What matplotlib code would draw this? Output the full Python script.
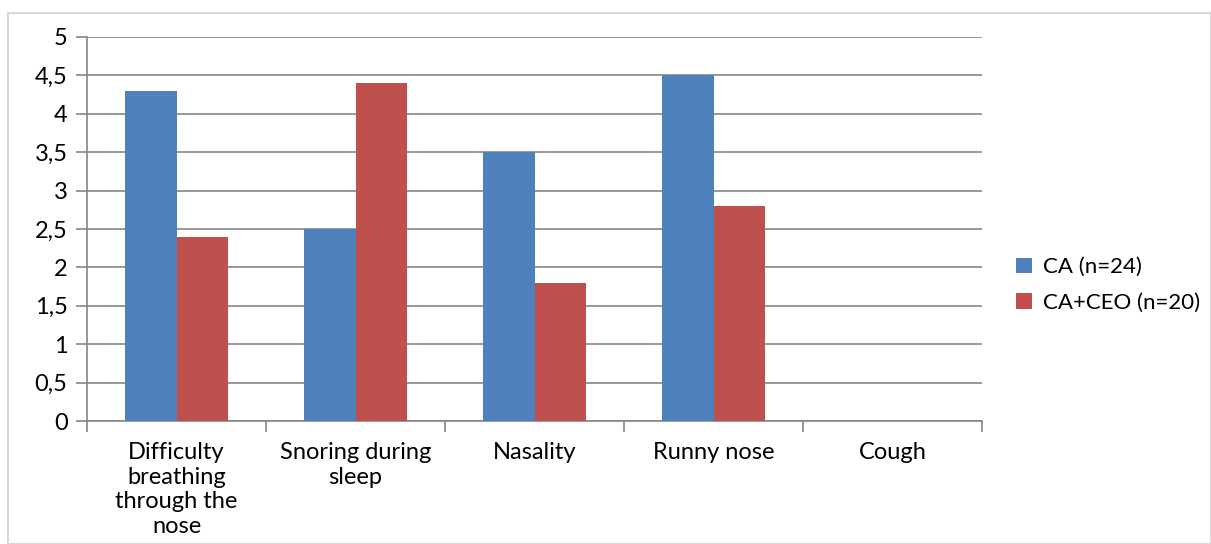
import matplotlib
matplotlib.use("Agg")
import matplotlib.pyplot as plt
from matplotlib.patches import Rectangle
import numpy as np

categories = ["Difficulty\nbreathing\nthrough the\nnose", "Snoring during\nsleep", "Nasality", "Runny nose", "Cough"]
ca_values = [4.3, 2.5, 3.5, 4.5, 0.0]
ceo_values = [2.4, 4.4, 1.8, 2.8, 0.0]
series_names = ["CA (n=24)", "CA+CEO (n=20)"]
y_ticks = [0, 0.5, 1, 1.5, 2, 2.5, 3, 3.5, 4, 4.5, 5]
y_tick_labels = ["0", "0,5", "1", "1,5", "2", "2,5", "3", "3,5", "4", "4,5", "5"]

plt.rcParams['font.family'] = ['Lato', 'DejaVu Sans']

W, H = 1211, 544
fig = plt.figure(figsize=(W / 100, H / 100), dpi=100)
fig.patches.append(Rectangle((8 / W, 0), 1 - 8 / W, 1 - 13 / H, transform=fig.transFigure,
                             fill=False, edgecolor="#d9d9d9", linewidth=1.5))

ax = fig.add_axes([87 / W, 1 - 421 / H, (982 - 87) / W, (421 - 37) / H])

x = np.arange(len(categories))
w = 0.29
ax.bar(x - w / 2, ca_values, width=w, color="#4f81bd", label=series_names[0], zorder=3)
ax.bar(x + w / 2, ceo_values, width=w, color="#c0504d", label=series_names[1], zorder=3)

ax.set_xlim(-0.5, len(categories) - 0.5)
ax.set_ylim(0, 5)
ax.set_yticks(y_ticks)
ax.set_yticklabels(y_tick_labels, fontsize=17)
ax.yaxis.grid(True, color="#868686", linewidth=1.2, zorder=0)
ax.tick_params(axis="y", length=8, color="#868686", width=1.2, pad=6)

ax.set_xticks(x)
ax.set_xticklabels(categories, fontsize=17, linespacing=1.22)
ax.tick_params(axis="x", which="major", length=0, pad=15)
ax.set_xticks(np.arange(-0.5, len(categories)), minor=True)
ax.tick_params(axis="x", which="minor", length=8, color="#868686", width=1.2)

for s in ["top", "right"]:
    ax.spines[s].set_visible(False)
for s in ["left", "bottom"]:
    ax.spines[s].set_color("#868686")
    ax.spines[s].set_linewidth(1.2)

ax.legend(loc="center left", bbox_to_anchor=(1016 / W, 1 - 285 / H), bbox_transform=fig.transFigure,
          frameon=False, fontsize=16, borderpad=0, borderaxespad=0,
          handlelength=0.7, handleheight=0.7, handletextpad=0.5, labelspacing=0.7)

fig.savefig("out.png", dpi=100)
